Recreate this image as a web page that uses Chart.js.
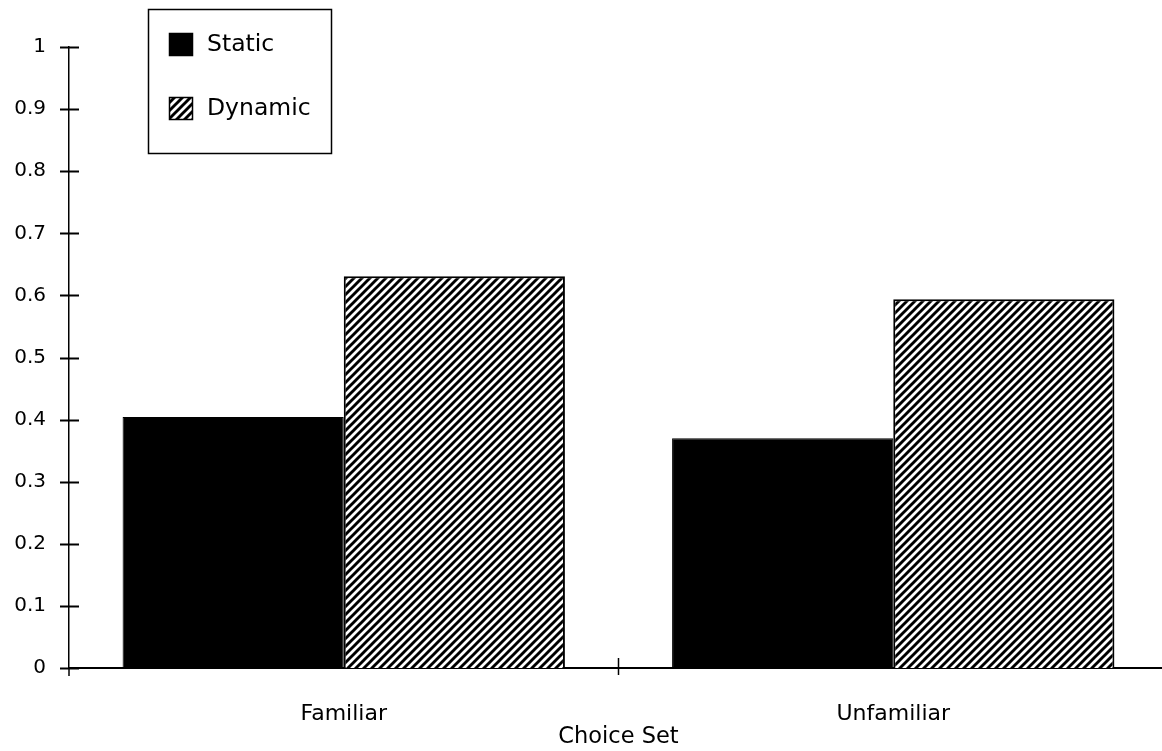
<!DOCTYPE html>
<html>
<head>
<meta charset="utf-8">
<script src="https://cdn.jsdelivr.net/npm/chart.js@4/dist/chart.umd.min.js"></script>
<style>
  html, body { margin: 0; padding: 0; background: #fff; overflow: hidden; }
  #wrap { position: relative; width: 1172px; height: 751px; }
</style>
</head>
<body>
<div id="wrap"><canvas id="c" width="1172" height="751"></canvas></div>
<script>
// Chart data
const categories = ['Familiar', 'Unfamiliar'];
const seriesNames = ['Static', 'Dynamic'];
const staticValues = [0.404, 0.370];
const dynamicValues = [0.631, 0.594];
const yTickLabels = ['0', '0.1', '0.2', '0.3', '0.4', '0.5', '0.6', '0.7', '0.8', '0.9', '1'];
const xAxisTitle = 'Choice Set';

// Diagonal hatch fill for the "Dynamic" series
function makeHatch() {
  const size = 8;
  const pc = document.createElement('canvas');
  pc.width = size; pc.height = size;
  const p = pc.getContext('2d');
  p.fillStyle = '#fff';
  p.fillRect(0, 0, size, size);
  p.strokeStyle = '#000';
  p.lineWidth = 2.9;
  p.beginPath();
  p.moveTo(-1, size + 1); p.lineTo(size + 1, -1);
  p.moveTo(-2, 2); p.lineTo(2, -2);
  p.moveTo(size - 2, size + 2); p.lineTo(size + 2, size - 2);
  p.stroke();
  return document.getElementById('c').getContext('2d').createPattern(pc, 'repeat');
}
const hatch = makeHatch();

// Tick marks that cross the axes, plus the category divider on the x axis
const axisMarks = {
  id: 'axisMarks',
  afterDatasetsDraw(chart) {
    const { ctx, scales: { x, y } } = chart;
    ctx.save();
    ctx.strokeStyle = '#000';
    ctx.lineWidth = 2;
    const ax = y.right;
    yTickLabels.forEach((_, i) => {
      const py = Math.round(y.getPixelForValue(i / 10)) + 0.5;
      ctx.beginPath();
      ctx.moveTo(ax - 9, py);
      ctx.lineTo(ax + 10, py);
      ctx.stroke();
    });
    // y axis runs a little past zero
    ctx.lineWidth = 1.5;
    ctx.beginPath();
    ctx.moveTo(ax, y.getPixelForValue(0));
    ctx.lineTo(ax, y.getPixelForValue(0) + 8);
    ctx.stroke();
    // divider between the two categories
    const bx = (x.getPixelForValue(0) + x.getPixelForValue(1)) / 2;
    const by = y.getPixelForValue(0);
    ctx.beginPath();
    ctx.moveTo(bx, by - 10);
    ctx.lineTo(bx, by + 7);
    ctx.stroke();
    ctx.restore();
  }
};

// Boxed legend in the upper-left corner of the plot
const boxLegend = {
  id: 'boxLegend',
  afterDraw(chart) {
    const { ctx } = chart;
    const bx = 148, by = 9, bw = 183, bh = 144;
    ctx.save();
    ctx.fillStyle = '#fff';
    ctx.fillRect(bx, by, bw, bh);
    ctx.strokeStyle = '#000';
    ctx.lineWidth = 1.5;
    ctx.strokeRect(bx + 0.5, by + 0.5, bw, bh);
    ctx.font = '23.5px "DejaVu Sans"';
    ctx.textBaseline = 'middle';
    chart.data.datasets.forEach((ds, i) => {
      const sy = 33 + i * 64;
      ctx.fillStyle = ds.backgroundColor;
      ctx.fillRect(169, sy, 24, 23);
      ctx.strokeStyle = '#000';
      ctx.lineWidth = 1.5;
      ctx.strokeRect(169.5, sy + 0.5, 23, 22);
      ctx.fillStyle = '#000';
      ctx.fillText(ds.label, 207, sy + 12);
    });
    ctx.restore();
  }
};

new Chart(document.getElementById('c'), {
  type: 'bar',
  data: {
    labels: categories,
    datasets: [
      {
        label: seriesNames[0],
        data: staticValues,
        backgroundColor: '#000',
        borderColor: '#000',
        borderWidth: 1
      },
      {
        label: seriesNames[1],
        data: dynamicValues,
        backgroundColor: hatch,
        borderColor: '#000',
        borderWidth: 2
      }
    ]
  },
  options: {
    responsive: false,
    animation: false,
    devicePixelRatio: 1,
    layout: { padding: { top: 47, right: 4, left: 0, bottom: 0 } },
    datasets: {
      bar: { categoryPercentage: 0.805, barPercentage: 1.0 }
    },
    plugins: {
      legend: { display: false },
      tooltip: { enabled: false },
      title: { display: false }
    },
    scales: {
      x: {
        type: 'category',
        offset: true,
        grid: { display: false, drawTicks: false },
        border: { display: true, color: '#000', width: 2 },
        ticks: {
          color: '#000',
          padding: 33,
          font: { family: '"DejaVu Sans"', size: 22 },
          maxRotation: 0
        },
        title: {
          display: true,
          text: xAxisTitle,
          color: '#000',
          font: { family: '"DejaVu Sans"', size: 22.5 },
          padding: { top: 0, bottom: 0 }
        },
        afterFit(scale) { scale.height = 83; }
      },
      y: {
        min: 0,
        max: 1,
        grid: { display: false, drawTicks: false },
        border: { display: true, color: '#000', width: 1.5 },
        ticks: {
          stepSize: 0.1,
          color: '#000',
          padding: 23,
          font: { family: '"DejaVu Sans"', size: 20 },
          callback: (v, i) => yTickLabels[i]
        },
        afterFit(scale) { scale.width = 69; }
      }
    }
  },
  plugins: [axisMarks, boxLegend]
});
</script>
</body>
</html>
